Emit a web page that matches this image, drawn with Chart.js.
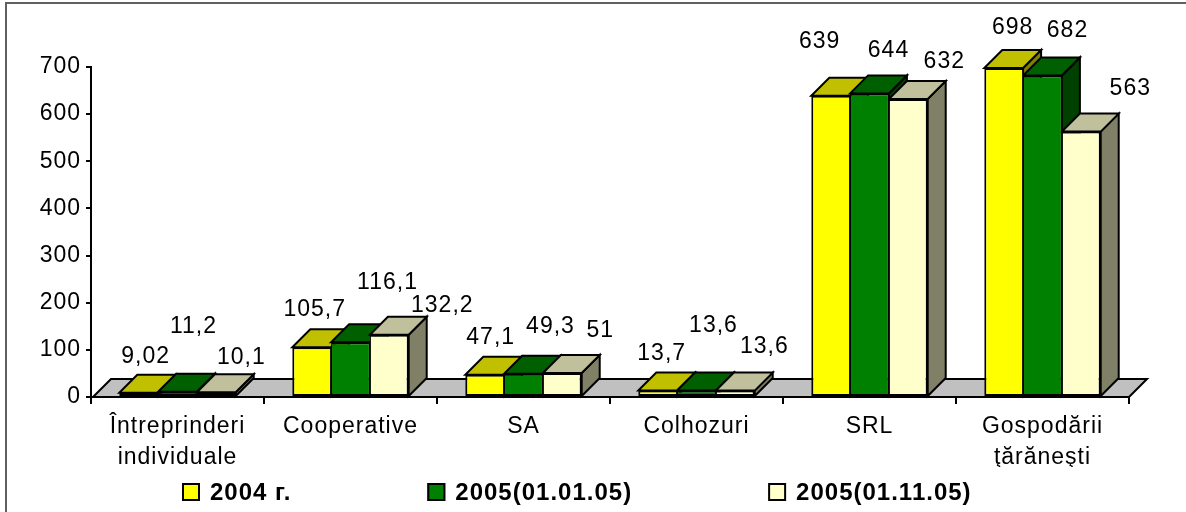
<!DOCTYPE html>
<html><head><meta charset="utf-8">
<script src="https://cdn.jsdelivr.net/npm/chart.js@4.4.0/dist/chart.umd.min.js"></script>
<style>html,body{margin:0;padding:0;background:#fff;} canvas{display:block;}</style>
</head><body>
<canvas id="c" width="1186" height="512"></canvas>
<script>
// ---- data ----
const categories = [['Întreprinderi','individuale'], 'Cooperative', 'SA', 'Colhozuri', 'SRL', ['Gospodării','ţărăneşti']];
const seriesNames = ['2004 г.', '2005(01.01.05)', '2005(01.11.05)'];
const values2004 = [9.02, 105.7, 47.1, 13.7, 639, 698];
const values2005jan = [11.2, 116.1, 49.3, 13.6, 644, 682];
const values2005nov = [10.1, 132.2, 51, 13.6, 632, 563];
const yTicks = [0, 100, 200, 300, 400, 500, 600, 700];

// ---- styling / layout ----
const FONT = "'Liberation Sans', Arial, sans-serif";
const DX = 18, DY = 18;              // 3D depth offset
const shades = [
  {front:'#FFFF00', top:'#C0C000', side:'#808000'},
  {front:'#008000', top:'#006000', side:'#004000'},
  {front:'#FFFFCC', top:'#C0C09C', side:'#808066'}
];
// label nudges relative to the centre of each bar's top face
const labelNudge = [
  [[-2,-27],[-6,-29],[-3,-28],[-5,-28],[-20,-45],[0,-31]],
  [[7,-56],[28,-51],[18,-38],[8,-56],[10,-34],[16,-36]],
  [[16,-26],[44,-20],[29,-33],[20,-35],[27,-28],[40,-34]]
];
const LEGEND = {x:182, y:492, gap:136, box:18, textGap:10};

const fmt = v => String(v).replace('.', ',');

function poly(ctx, pts, fill) {
  ctx.beginPath();
  ctx.moveTo(pts[0][0], pts[0][1]);
  for (let k = 1; k < pts.length; k++) ctx.lineTo(pts[k][0], pts[k][1]);
  ctx.closePath();
  ctx.fillStyle = fill; ctx.fill(); ctx.stroke();
}

const bars3d = {
  id: 'bars3d',
  beforeInit(chart){ chart.ctx.letterSpacing = '1px'; },
  beforeLayout(chart){ chart.ctx.letterSpacing = '1px'; },
  beforeDraw(chart){ chart.ctx.letterSpacing = '1px'; },
  beforeDatasetsDraw(chart){
    const ctx = chart.ctx, a = chart.chartArea;
    const base = chart.scales.y.getPixelForValue(0);
    ctx.save();
    ctx.lineWidth = 2; ctx.strokeStyle = '#000'; ctx.lineJoin = 'miter';
    poly(ctx, [[a.left + 2, base], [a.right, base], [a.right + DX, base - DY], [a.left + 2 + DX, base - DY]], '#C0C0C0');
    const n = chart.data.labels.length;
    for (let j = 0; j < n; j++) {
      chart.data.datasets.forEach((ds, i) => {
        const el = chart.getDatasetMeta(i).data[j];
        const p = el.getProps(['x','y','base','width'], true);
        const l = p.x - p.width / 2, r = p.x + p.width / 2;
        poly(ctx, [[r, p.y], [r + DX, p.y - DY], [r + DX, p.base - DY], [r, p.base]], shades[i].side);
        poly(ctx, [[l, p.y], [r, p.y], [r + DX, p.y - DY], [l + DX, p.y - DY]], shades[i].top);
      });
    }
    ctx.restore();
  },
  afterDatasetsDraw(chart){
    const ctx = chart.ctx;
    ctx.save();
    ctx.font = '23px ' + FONT; ctx.fillStyle = '#000';
    ctx.textAlign = 'center'; ctx.textBaseline = 'middle';
    chart.data.datasets.forEach((ds, i) => {
      chart.getDatasetMeta(i).data.forEach((el, j) => {
        const nd = labelNudge[i][j];
        ctx.fillText(fmt(ds.data[j]), el.x + DX / 2 + nd[0], el.y - DY / 2 + nd[1]);
      });
    });
    ctx.restore();
  },
  afterDraw(chart){
    const ctx = chart.ctx;
    ctx.save();
    // legend
    ctx.font = 'bold 24px ' + FONT;
    ctx.textAlign = 'left'; ctx.textBaseline = 'middle';
    let x = LEGEND.x;
    chart.data.datasets.forEach((ds, i) => {
      const b = LEGEND.box;
      ctx.fillStyle = ds.backgroundColor;
      ctx.fillRect(x, LEGEND.y - b / 2, b, b);
      ctx.lineWidth = 2; ctx.strokeStyle = '#000';
      ctx.strokeRect(x + 1, LEGEND.y - b / 2 + 1, b - 2, b - 2);
      ctx.fillStyle = '#000';
      const tx = x + b + LEGEND.textGap;
      ctx.fillText(ds.label, tx, LEGEND.y + 1);
      x = tx + ctx.measureText(ds.label).width + LEGEND.gap;
    });
    // frame
    ctx.strokeStyle = '#606060'; ctx.lineWidth = 2;
    ctx.beginPath(); ctx.moveTo(6, 512); ctx.lineTo(6, 3); ctx.lineTo(1186, 3); ctx.stroke();
    ctx.restore();
  }
};

const borderSets = [
  {left:2, right:1, top:2, bottom:2},
  {left:1, right:1, top:2, bottom:2},
  {left:1, right:2, top:2, bottom:2}
];
const seriesValues = [values2004, values2005jan, values2005nov];

new Chart(document.getElementById('c'), {
  type: 'bar',
  data: {
    labels: categories,
    datasets: seriesValues.map((vals, i) => ({
      label: seriesNames[i],
      data: vals,
      backgroundColor: shades[i].front,
      borderColor: '#000',
      borderWidth: borderSets[i],
      borderSkipped: false
    }))
  },
  options: {
    responsive: false,
    animation: false,
    devicePixelRatio: 1,
    layout: {padding: {top: 67, right: 57, bottom: 45, left: 0}},
    datasets: {bar: {categoryPercentage: 0.673, barPercentage: 1}},
    plugins: {legend: {display: false}, tooltip: {enabled: false}},
    scales: {
      x: {
        grid: {drawOnChartArea: false, tickLength: 7, color: '#000', lineWidth: 2, offset: true},
        border: {color: '#000', width: 2},
        ticks: {color: '#000', font: {family: FONT, size: 23, lineHeight: 1.35}, padding: 7, maxRotation: 0, autoSkip: false},
        afterFit(s){ s.height = 70; }
      },
      y: {
        min: 0, max: 700,
        afterBuildTicks(s){ s.ticks = yTicks.map(v => ({value: v})); },
        ticks: {color: '#000', font: {family: FONT, size: 23}, padding: 5},
        grid: {drawOnChartArea: false, tickLength: 5, color: '#000', lineWidth: 2},
        border: {color: '#000', width: 2},
        afterFit(s){ s.width = 91; }
      }
    }
  },
  plugins: [bars3d]
});
</script>
</body></html>
